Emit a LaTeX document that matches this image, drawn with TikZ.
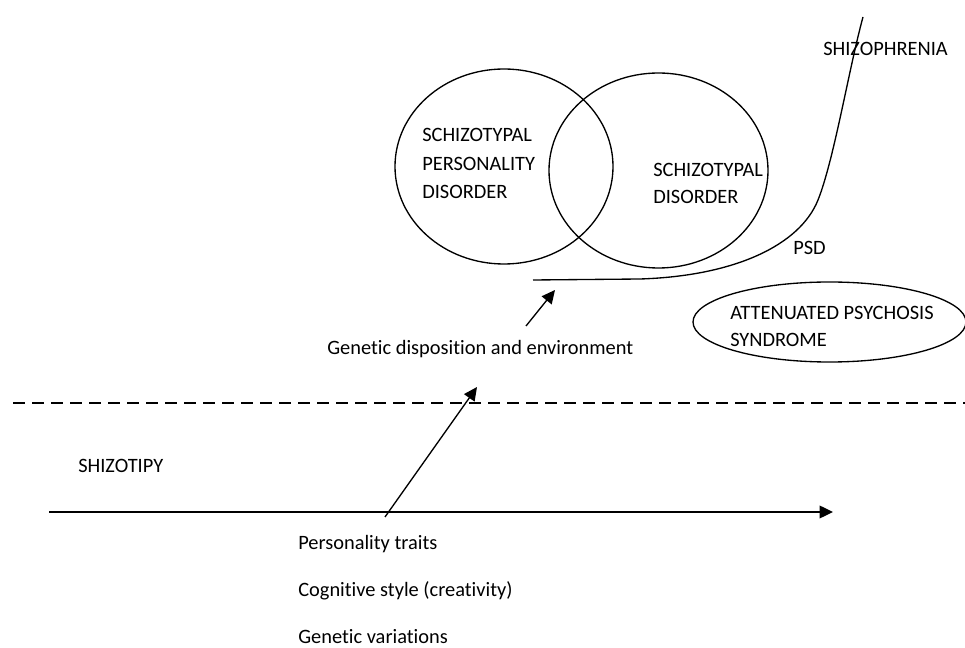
\documentclass[tikz,border=0pt]{standalone}
\usepackage{fontspec}
\setmainfont{Carlito}[Ligatures=NoCommon]
\usetikzlibrary{shapes.geometric,arrows.meta}
\begin{document}
\begin{tikzpicture}[x=0.75pt,y=-0.75pt,
  lbl/.style={anchor=base west,inner sep=0pt,font=\fontsize{15.3pt}{18pt}\selectfont},
  oval/.style={draw,ellipse,inner sep=0pt,line width=1pt},
  conn/.style={line width=1pt},
  arr/.style={line width=1pt,-{Triangle[length=10pt,width=9.5pt]}}]
\useasboundingbox (0,0) rectangle (965,648);
% sets
\node[oval,minimum width=163.5pt,minimum height=146.25pt] (spdcirc) at (504,166.5) {};
\node[oval,minimum width=164.25pt,minimum height=146.25pt] (sdcirc) at (658.5,170.5) {};
\node[oval,minimum width=204.75pt,minimum height=60pt] (apsoval) at (829.5,322) {};
% texts
\node[lbl] (spd1) at (422,142) {SCHIZOTYPAL};
\node[lbl] (spd2) at (422,171) {PERSONALITY};
\node[lbl] (spd3) at (422,199) {DISORDER};
\node[lbl] (sd1) at (653,177) {SCHIZOTYPAL};
\node[lbl] (sd2) at (653,204) {DISORDER};
\node[lbl] (schizo) at (823,56) {SHIZOPHRENIA};
\node[lbl] (psd) at (793,255) {PSD};
\node[lbl] (aps1) at (730,320) {ATTENUATED PSYCHOSIS};
\node[lbl] (aps2) at (730,347) {SYNDROME};
\node[lbl] (gen) at (327,355) {Genetic disposition and environment};
\node[lbl] (shiz) at (78,473) {SHIZOTIPY};
\node[lbl] (pt) at (298,550) {Personality traits};
\node[lbl] (cs) at (298,597) {Cognitive style (creativity)};
\node[lbl] (gv) at (298,643) {Genetic variations};
% PSD curve
\coordinate (psdstart) at (533,280);
\coordinate (psdbend) at (818,200);
\coordinate (psdend) at (863,17);
\draw[conn] (psdstart) -- (640,279) .. controls (735,276) and (800,245) .. (psdbend)
  .. controls (834,160) and (849,68) .. (psdend);
% arrows
\coordinate (gentail) at (526,326);
\coordinate (genhead) at (555,290);
\draw[arr] (gentail) -- (genhead);
\coordinate (axisstart) at (49,512);
\coordinate (axisend) at (833,512);
\draw[arr] (axisstart) -- (axisend);
\coordinate (diagtail) at (385,517);
\coordinate (diaghead) at (477,387);
\draw[arr] (diagtail) -- (diaghead);
% dashed boundary
\coordinate (dashl) at (13,403);
\coordinate (dashr) at (965,403);
\draw[line width=1.3pt,dash pattern=on 9pt off 5.25pt] (dashl) -- (dashr);
\end{tikzpicture}
\end{document}
